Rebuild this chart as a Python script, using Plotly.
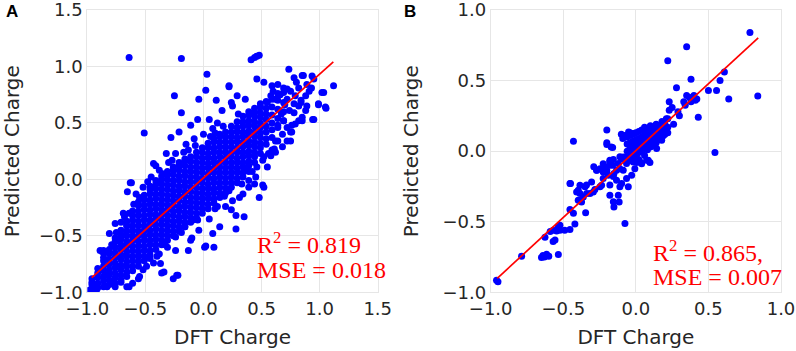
import plotly.graph_objects as go

# ---------------- Panel A data ----------------
# dense core, read column by column (x value -> y values)
a_core_x = [-0.96, -0.91, -0.86, -0.81, -0.76, -0.71, -0.66, -0.61, -0.56, -0.51,
            -0.46, -0.41, -0.36, -0.31, -0.26, -0.21, -0.16, -0.11, -0.06, -0.01,
            0.04, 0.09, 0.14, 0.19, 0.24, 0.29, 0.34, 0.39, 0.44, 0.49,
            0.54, 0.59, 0.64, 0.69]
a_core_y = [
    [-0.97, -0.93, -0.88],
    [-0.96, -0.92, -0.87, -0.83, -0.79],
    [-0.95, -0.90, -0.86, -0.81, -0.77, -0.72, -0.69],
    [-0.93, -0.89, -0.84, -0.80, -0.75, -0.71, -0.66, -0.62],
    [-0.92, -0.87, -0.83, -0.78, -0.74, -0.69, -0.65, -0.60, -0.55, -0.52],
    [-0.89, -0.85, -0.80, -0.76, -0.71, -0.67, -0.62, -0.58, -0.53, -0.49, -0.45],
    [-0.86, -0.82, -0.77, -0.73, -0.68, -0.64, -0.59, -0.55, -0.50, -0.46, -0.41, -0.37],
    [-0.81, -0.77, -0.72, -0.68, -0.63, -0.59, -0.54, -0.50, -0.45, -0.41, -0.36, -0.32, -0.28],
    [-0.77, -0.73, -0.68, -0.64, -0.59, -0.55, -0.50, -0.46, -0.41, -0.37, -0.32, -0.28, -0.23, -0.20],
    [-0.72, -0.68, -0.63, -0.59, -0.54, -0.50, -0.45, -0.41, -0.36, -0.32, -0.27, -0.23, -0.18, -0.14],
    [-0.67, -0.63, -0.58, -0.54, -0.49, -0.45, -0.40, -0.36, -0.31, -0.27, -0.22, -0.18, -0.13, -0.09, -0.06],
    [-0.62, -0.58, -0.53, -0.49, -0.44, -0.40, -0.35, -0.31, -0.26, -0.22, -0.17, -0.13, -0.08, -0.04, -0.01],
    [-0.58, -0.54, -0.49, -0.45, -0.40, -0.36, -0.31, -0.27, -0.22, -0.18, -0.13, -0.09, -0.04, 0.00, 0.03],
    [-0.54, -0.50, -0.45, -0.41, -0.36, -0.32, -0.27, -0.23, -0.18, -0.14, -0.09, -0.05, 0.00, 0.04, 0.07],
    [-0.50, -0.46, -0.41, -0.37, -0.32, -0.28, -0.23, -0.19, -0.14, -0.10, -0.05, -0.01, 0.04, 0.08, 0.11],
    [-0.46, -0.42, -0.37, -0.33, -0.28, -0.24, -0.19, -0.15, -0.10, -0.06, -0.01, 0.03, 0.08, 0.12, 0.15],
    [-0.42, -0.38, -0.33, -0.29, -0.24, -0.20, -0.15, -0.11, -0.06, -0.02, 0.03, 0.07, 0.12, 0.16, 0.18],
    [-0.38, -0.34, -0.29, -0.25, -0.20, -0.16, -0.11, -0.07, -0.02, 0.02, 0.07, 0.11, 0.16, 0.20],
    [-0.34, -0.30, -0.25, -0.21, -0.16, -0.12, -0.07, -0.03, 0.02, 0.06, 0.11, 0.15, 0.20, 0.24],
    [-0.30, -0.26, -0.21, -0.17, -0.12, -0.08, -0.03, 0.01, 0.06, 0.10, 0.15, 0.19, 0.24, 0.28],
    [-0.26, -0.22, -0.17, -0.13, -0.08, -0.04, 0.01, 0.05, 0.10, 0.14, 0.19, 0.23, 0.28, 0.32],
    [-0.21, -0.17, -0.12, -0.08, -0.03, 0.01, 0.06, 0.10, 0.15, 0.19, 0.24, 0.28, 0.33, 0.36],
    [-0.16, -0.12, -0.07, -0.03, 0.02, 0.06, 0.11, 0.15, 0.20, 0.24, 0.29, 0.33, 0.38, 0.40],
    [-0.12, -0.08, -0.03, 0.01, 0.06, 0.10, 0.15, 0.19, 0.24, 0.28, 0.33, 0.37, 0.42],
    [-0.07, -0.03, 0.02, 0.06, 0.11, 0.15, 0.20, 0.24, 0.29, 0.33, 0.38, 0.42, 0.47],
    [-0.03, 0.01, 0.06, 0.10, 0.15, 0.19, 0.24, 0.28, 0.33, 0.37, 0.42, 0.46, 0.51],
    [0.02, 0.06, 0.11, 0.15, 0.20, 0.24, 0.29, 0.33, 0.38, 0.42, 0.47, 0.51, 0.56],
    [0.07, 0.12, 0.16, 0.21, 0.25, 0.30, 0.34, 0.39, 0.43, 0.48, 0.52, 0.57, 0.60],
    [0.15, 0.20, 0.24, 0.29, 0.33, 0.38, 0.42, 0.47, 0.51, 0.56, 0.60, 0.63],
    [0.23, 0.28, 0.32, 0.37, 0.41, 0.46, 0.50, 0.55, 0.59, 0.64, 0.67],
    [0.31, 0.36, 0.42, 0.47, 0.53, 0.58, 0.63, 0.69],
    [0.37, 0.44, 0.50, 0.57, 0.64, 0.71],
    [0.46, 0.54, 0.62, 0.70, 0.76],
    [0.52, 0.60, 0.68, 0.77],
]

# scattered points above the band
a_pts_upper = [
    [-0.64, 1.08], [-0.19, 1.07], [-0.51, 0.41], [-0.25, 0.74], [0.03, 0.93],
    [-0.04, 0.71], [0.02, 0.79], [0.22, 0.82], [0.29, 0.74], [-0.19, 0.59],
    [-0.28, 0.37], [-0.21, 0.42], [-0.11, 0.48], [-0.05, 0.53], [0.05, 0.53],
    [0.08, 0.45], [-0.43, 0.14], [-0.41, 0.12], [-0.62, -0.03], [-0.655, -0.11],
    [-0.58, -0.13], [-0.52, -0.07], [-0.32, 0.23], [-0.24, 0.23], [-0.15, 0.31],
    [-0.35, 0.05], [-0.76, -0.39], [-0.69, -0.30], [-0.81, -0.48], [-0.89, -0.63],
    [-0.86, -0.63], [-0.73, -0.54], [0.11, 0.70], [0.16, 0.61], [0.25, 0.65],
    [0.36, 0.71], [-0.63, -0.03], [-0.64, -0.30], [-0.71, -0.38], [-0.66, -0.41],
    [-0.79, -0.58], [-0.87, -0.64], [-0.71, -0.51], [0.24, 0.68], [0.22, 0.83],
    [-0.08, 0.36], [0.00, 0.40], [0.12, 0.50], [-0.30, 0.15], [-0.45, 0.02],
    [-0.55, -0.16], [-0.48, -0.02], [-0.38, 0.08], [-0.27, 0.17], [-0.17, 0.24],
    [-0.07, 0.30], [0.06, 0.38], [0.17, 0.47], [0.30, 0.58], [-0.60, -0.22],
    [-0.68, -0.33], [-0.75, -0.47], [-0.84, -0.64], [-0.13, 0.26], [0.10, 0.41],
]

# upper-right cloud
a_pts_right = [
    [0.41, 1.06], [0.44, 1.08], [0.46, 1.09], [0.48, 1.10], [0.46, 0.89],
    [0.52, 0.86], [0.59, 0.83], [0.64, 0.84], [0.69, 0.81], [0.735, 0.975],
    [0.78, 0.90], [0.85, 0.92], [0.86, 0.92], [0.935, 0.916], [0.95, 0.89],
    [0.89, 0.84], [0.82, 0.81], [0.75, 0.78], [0.79, 0.74], [0.72, 0.71],
    [0.66, 0.75], [0.62, 0.71], [0.58, 0.74], [0.55, 0.68], [0.88, 0.74],
    [0.84, 0.68], [0.91, 0.78], [1.12, 0.83], [1.02, 0.77], [1.05, 0.64],
    [0.99, 0.67], [0.95, 0.53], [0.85, 0.52], [0.85, 0.55], [0.78, 0.59],
    [0.76, 0.48], [0.75, 0.42], [0.72, 0.34], [0.64, 0.34], [0.61, 0.27],
    [0.62, 0.24], [0.58, 0.21], [0.68, 0.29], [0.79, 0.49], [0.69, 0.52],
    [0.64, 0.48], [0.82, 0.65], [0.89, 0.65], [0.78, 0.67], [0.80, 0.86],
    [0.70, 0.66], [0.74, 0.61], [0.67, 0.58], [0.72, 0.80], [0.60, 0.78],
    [0.93, 0.81], [0.94, 0.53], [1.055, 0.63], [1.035, 0.77], [0.99, 0.66],
    [0.88, 0.61], [0.84, 0.70], [0.82, 0.52], [0.76, 0.42], [0.75, 0.34],
    [0.72, 0.46], [0.68, 0.40], [0.62, 0.34], [0.59, 0.26], [0.52, 0.20],
]

# scattered points below the band
a_pts_lower = [
    [0.12, -0.24], [0.24, -0.27], [0.35, -0.33], [0.48, -0.16], [0.52, -0.07],
    [0.39, -0.07], [0.31, -0.16], [0.45, 0.02], [0.55, 0.11], [0.56, 0.23],
    [0.51, 0.17], [0.51, -0.05], [0.44, -0.04], [0.28, -0.32], [0.28, -0.44],
    [0.02, -0.59], [0.09, -0.60], [0.14, -0.42], [0.08, -0.48], [-0.04, -0.45],
    [-0.11, -0.54], [-0.26, -0.88], [-0.22, -0.85], [-0.36, -0.83], [-0.43, -0.74],
    [-0.38, -0.66], [-0.31, -0.60], [-0.24, -0.51], [-0.16, -0.42], [-0.09, -0.36],
    [-0.49, -0.77], [-0.55, -0.86], [-0.61, -0.92], [-0.64, -0.95], [-0.71, -0.91],
    [-0.76, -0.95], [-0.83, -0.95], [-0.93, -0.96], [-0.92, -0.98], [-0.96, -0.91],
    [-0.98, -0.98], [0.19, -0.24], [0.25, -0.19], [0.34, -0.13], [0.39, -0.01],
    [0.38, 0.08], [0.46, 0.11], [-0.23, -0.85], [-0.34, -0.82], [-0.37, -0.745],
    [-0.13, -0.63], [0.01, -0.60], [-0.10, -0.52], [-0.24, -0.63], [-0.56, -0.88],
    [-0.66, -0.95], [-0.83, -0.85], [-0.77, -0.91], [0.05, -0.35], [0.18, -0.15],
    [-0.46, -0.70], [-0.33, -0.58], [-0.19, -0.47], [-0.05, -0.36], [0.10, -0.26],
    [0.22, -0.10], [0.33, -0.04], [0.42, 0.07], [-0.52, -0.80], [-0.40, -0.68],
]

a_line_x = [-0.962, 1.118]
a_line_y = [-0.871, 1.040]

# ---------------- Panel B data ----------------
b_pts_upper = [
    [0.35, 0.74], [0.22, 0.64], [0.38, 0.51], [0.28, 0.45], [0.50, 0.43],
    [0.556, 0.43], [0.61, 0.56], [0.58, 0.50], [0.64, 0.37], [0.43, 0.24],
    [0.545, -0.01], [-0.43, 0.07], [0.26, 0.19], [0.786, 0.84], [0.84, 0.39],
    [0.35, 0.395], [0.37, 0.38], [0.40, 0.395], [0.41, 0.36], [0.38, 0.35],
    [0.42, 0.37], [0.33, 0.35], [0.34, 0.325], [0.23, 0.35], [0.25, 0.31],
    [0.23, 0.29], [0.29, 0.28], [0.30, 0.25], [0.21, 0.23], [0.39, 0.38],
]
b_pts_core = [
    [-0.06, 0.00], [-0.06, 0.05], [-0.06, 0.10], [-0.06, -0.04],
    [-0.04, -0.02], [-0.04, 0.02], [-0.04, 0.06], [-0.04, 0.11], [-0.04, 0.13],
    [-0.02, -0.05], [-0.02, -0.01], [-0.02, 0.03], [-0.02, 0.07], [-0.02, 0.12],
    [0.00, -0.03], [0.00, 0.01], [0.00, 0.04], [0.00, 0.08], [0.00, 0.13],
    [0.02, -0.06], [0.02, -0.01], [0.02, 0.02], [0.02, 0.05], [0.02, 0.09], [0.02, 0.14],
    [0.04, 0.00], [0.04, 0.03], [0.04, 0.07], [0.04, 0.10], [0.04, 0.15],
    [0.06, -0.03], [0.06, 0.02], [0.06, 0.05], [0.06, 0.08], [0.06, 0.12], [0.06, 0.17],
    [0.08, 0.01], [0.08, 0.04], [0.08, 0.07], [0.08, 0.10], [0.08, 0.13], [0.08, 0.16],
    [0.10, 0.03], [0.10, 0.06], [0.10, 0.09], [0.10, 0.12], [0.10, 0.15], [0.10, 0.18],
    [0.12, 0.04], [0.12, 0.08], [0.12, 0.11], [0.12, 0.14], [0.12, 0.17],
    [0.14, 0.06], [0.14, 0.10], [0.14, 0.13], [0.14, 0.16], [0.14, 0.19],
    [0.16, 0.08], [0.16, 0.11], [0.16, 0.15], [0.16, 0.18],
    [0.18, 0.10], [0.18, 0.13], [0.18, 0.16], [0.18, 0.21],
    [0.20, 0.12], [0.20, 0.16], [0.20, 0.19], [0.22, 0.13], [0.22, 0.17], [0.22, 0.23],
    [-0.10, 0.12], [-0.086, 0.10], [-0.063, 0.11], [-0.05, 0.136], [-0.018, 0.125],
    [-0.08, 0.11], [-0.09, 0.09], [0.03, -0.076], [0.074, -0.064], [0.12, 0.054],
    [0.178, 0.077], [0.19, 0.11], [0.143, 0.018], [-0.04, 0.124],
]
b_pts_lower = [
    [-0.20, 0.15], [-0.20, 0.06], [-0.16, 0.025], [-0.20, 0.047], [-0.17, 0.03],
    [-0.29, -0.11], [-0.27, -0.135], [-0.225, -0.09], [-0.18, -0.076], [-0.16, -0.10],
    [-0.11, -0.04], [0.005, -0.08], [0.04, -0.09], [0.085, -0.064], [0.097, -0.08],
    [-0.96, -0.914], [-0.95, -0.925], [-0.787, -0.744], [-0.64, -0.74], [-0.63, -0.75],
    [-0.615, -0.73], [-0.60, -0.744], [-0.65, -0.753], [-0.534, -0.732], [-0.57, -0.64],
    [-0.557, -0.63], [-0.626, -0.61], [-0.59, -0.57], [-0.57, -0.56], [-0.546, -0.565],
    [-0.523, -0.56], [-0.49, -0.56], [-0.454, -0.555], [-0.534, -0.536], [-0.523, -0.525],
    [-0.454, -0.414], [-0.43, -0.44], [-0.42, -0.517], [-0.454, -0.23], [-0.397, -0.277],
    [-0.385, -0.241], [-0.34, -0.24], [-0.35, -0.253], [-0.397, -0.348], [-0.346, -0.437],
    [-0.362, -0.324], [-0.339, -0.30], [-0.316, -0.30], [-0.293, -0.289], [-0.282, -0.272],
    [-0.247, -0.253], [-0.236, -0.241], [-0.27, -0.135], [-0.247, -0.124], [-0.20, -0.135],
    [-0.179, -0.10], [-0.225, -0.194], [-0.19, -0.17], [-0.155, -0.18], [-0.179, -0.312],
    [-0.155, -0.359], [-0.121, -0.312], [-0.151, -0.395], [-0.075, -0.513], [-0.11, -0.253],
    [-0.098, -0.23], [-0.133, -0.206], [-0.179, -0.24], [-0.064, -0.194], [-0.029, -0.17],
    [-0.052, -0.253], [-0.087, -0.135], [-0.11, -0.124], [-0.121, -0.088], [-0.064, -0.088],
    [-0.041, -0.065], [-0.018, -0.077], [-0.133, -0.135], [-0.151, -0.159], [-0.007, -0.124],
    [-0.05, -0.02], [-0.02, -0.03], [0.005, -0.025], [-0.098, -0.053], [-0.087, -0.041],
    [-0.179, -0.065], [-0.155, -0.06], [-0.225, -0.147], [-0.213, -0.112], [-0.305, -0.218],
    [-0.385, -0.30], [-0.374, -0.36], [-0.408, -0.29], [-0.45, -0.23], [-0.115, -0.36],
]

b_line_x = [-0.955, 0.843]
b_line_y = [-0.901, 0.803]

# ---------------- ticks / text ----------------
a_ticks = [-1.0, -0.5, 0.0, 0.5, 1.0, 1.5]
a_tick_text = ["\u22121.0", "\u22120.5", "0.0", "0.5", "1.0", "1.5"]
b_ticks = [-1.0, -0.5, 0.0, 0.5, 1.0]
b_tick_text = ["\u22121.0", "\u22120.5", "0.0", "0.5", "1.0"]

# ---------------- build ----------------
ax_x, ax_y = [], []
for cx, ys in zip(a_core_x, a_core_y):
    for yv in ys:
        ax_x.append(cx)
        ax_y.append(yv)
for group in (a_pts_upper, a_pts_right, a_pts_lower):
    for px, py in group:
        ax_x.append(px)
        ax_y.append(py)

bx_x, bx_y = [], []
for group in (b_pts_upper, b_pts_core, b_pts_lower):
    for px, py in group:
        bx_x.append(px)
        bx_y.append(py)

BLUE = "#0000ff"
marker = dict(color=BLUE, size=7, line=dict(width=0))

fig = go.Figure()
fig.add_trace(go.Scatter(x=ax_x, y=ax_y, mode="markers", marker=marker,
                         xaxis="x", yaxis="y", showlegend=False))
fig.add_trace(go.Scatter(x=a_line_x, y=a_line_y, mode="lines",
                         line=dict(color="#ff0000", width=1.7),
                         xaxis="x", yaxis="y", showlegend=False))
fig.add_trace(go.Scatter(x=bx_x, y=bx_y, mode="markers", marker=marker,
                         xaxis="x2", yaxis="y2", showlegend=False))
fig.add_trace(go.Scatter(x=b_line_x, y=b_line_y, mode="lines",
                         line=dict(color="#ff0000", width=1.7),
                         xaxis="x2", yaxis="y2", showlegend=False))

GRID = "#e6e6e6"
TXT = "#262626"
W, H = 796, 351
ydom = [1 - 292.3 / H, 1 - 10 / H]


def axis(domain, rng, tv, tt, title, anchor, standoff):
    return dict(domain=domain, range=rng, tickvals=tv, ticktext=tt,
                showgrid=True, gridcolor=GRID, gridwidth=1, zeroline=False,
                showline=True, mirror=True, linecolor=GRID, linewidth=1,
                ticks="", ticklabeloverflow="allow",
                tickfont=dict(size=18, color=TXT, family="DejaVu Sans"),
                title=dict(text=title, standoff=standoff,
                           font=dict(size=20, color=TXT, family="DejaVu Sans")),
                anchor=anchor, automargin=False, fixedrange=True)


fig.update_layout(
    width=W, height=H,
    margin=dict(l=0, r=0, t=0, b=0),
    paper_bgcolor="white", plot_bgcolor="white",
    font=dict(family="DejaVu Sans", color=TXT),
    xaxis=axis([87.3 / W, 377.7 / W], [-1, 1.5], a_ticks, a_tick_text, "DFT Charge", "y", 12),
    yaxis=axis(ydom, [-1, 1.5], a_ticks, a_tick_text, "Predicted Charge", "x", 16),
    xaxis2=axis([490.7 / W, 781 / W], [-1, 1], b_ticks, b_tick_text, "DFT Charge", "y2", 12),
    yaxis2=axis(ydom, [-1, 1], b_ticks, b_tick_text, "Predicted Charge", "x2", 18),
    hovermode=False,
)

SERIF = dict(family="Liberation Serif, Times New Roman, serif", size=24, color="#ff0000")
ann = [
    dict(text="R<sup>2</sup> = 0.819", x=0.444, y=-0.565, xref="x", yref="y",
         xanchor="left", yanchor="middle", showarrow=False, font=SERIF),
    dict(text="MSE = 0.018", x=0.444, y=-0.803, xref="x", yref="y",
         xanchor="left", yanchor="middle", showarrow=False, font=SERIF),
    dict(text="R<sup>2</sup> = 0.865,", x=0.102, y=-0.704, xref="x2", yref="y2",
         xanchor="left", yanchor="middle", showarrow=False, font=SERIF),
    dict(text="MSE = 0.007", x=0.102, y=-0.892, xref="x2", yref="y2",
         xanchor="left", yanchor="middle", showarrow=False, font=SERIF),
    dict(text="<b>A</b>", x=4 / W, y=1.0, xref="paper", yref="paper",
         xanchor="left", yanchor="top", showarrow=False,
         font=dict(family="Liberation Sans, Arial", size=17, color="black")),
    dict(text="<b>B</b>", x=402 / W, y=1.0, xref="paper", yref="paper",
         xanchor="left", yanchor="top", showarrow=False,
         font=dict(family="Liberation Sans, Arial", size=17, color="black")),
]
fig.update_layout(annotations=ann)

fig.write_html("out.html", config={"displayModeBar": False, "staticPlot": True},
               post_script="document.body.style.margin='0px';document.body.style.padding='0px';")
